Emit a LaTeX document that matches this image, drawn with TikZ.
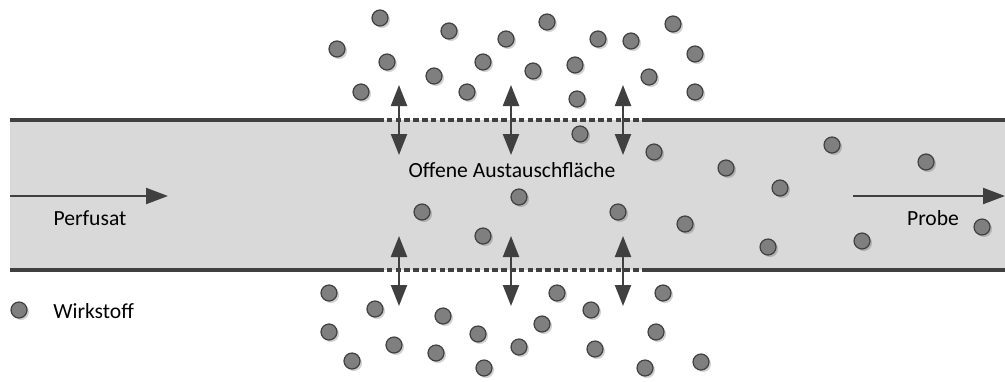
\documentclass[tikz,border=0pt]{standalone}
\usepackage{fontspec}
\setmainfont{Carlito}
\usetikzlibrary{arrows.meta,shadows}
\definecolor{linedark}{HTML}{404040}
\definecolor{tubefill}{HTML}{D9D9D9}
\definecolor{dotfill}{HTML}{7F7F7F}
\tikzset{
  wall/.style={draw=linedark, line width=1.8pt},
  membrane/.style={draw=linedark, line width=1.6pt, dash pattern=on 2.8pt off 1.6pt},
  flow/.style={draw=linedark, line width=1.1pt, -{Triangle[length=11pt,width=8pt]}},
  exchange/.style={draw=linedark, line width=1.1pt, {Triangle[length=10.5pt,width=8pt]}-{Triangle[length=10.5pt,width=8pt]}},
  particle/.style={circle, draw=linedark, fill=dotfill, line width=0.6pt,
    minimum size=8pt, inner sep=0pt,
    drop shadow={shadow xshift=1pt, shadow yshift=-1pt, opacity=0.18, fill=black}},
  label/.style={font=\fontsize{10.8}{12}\selectfont, text=black, inner sep=0pt},
}
\begin{document}
\begin{tikzpicture}[x=0.5pt, y=-0.5pt]
\useasboundingbox (0,0) rectangle (1005,381);

% tube interior
\fill[tubefill] (10,120) rectangle (1005,270);

% tube walls with open exchange section
\coordinate (tl) at (10,120);   \coordinate (tm1) at (378,120);
\coordinate (tm2) at (646,120); \coordinate (tr) at (1005,120);
\coordinate (bl) at (10,270);   \coordinate (bm1) at (378,270);
\coordinate (bm2) at (646,270); \coordinate (br) at (1005,270);
\draw[wall] (tl) -- (tm1);
\draw[wall] (tm2) -- (tr);
\draw[wall] (bl) -- (bm1);
\draw[wall] (bm2) -- (br);
\draw[membrane] (tm1) -- (tm2);
\draw[membrane] (bm1) -- (bm2);

% particles of the active agent
\foreach \n/\x/\y in {
  a1/380/18, a2/337/49, a3/387/62, a4/361/92, a5/449/31, a6/434/76,
  a7/467/92, a8/483/62, a9/506/39, a10/547/22, a11/533/71, a12/575/65,
  a13/577/99, a14/598/39, a15/631/41, a16/673/24, a17/695/54, a18/649/77,
  a19/695/92,
  b1/580/134, b2/654/152, b3/422/212, b4/519/197, b5/483/236, b6/618/212,
  b7/726/168, b8/780/188, b9/685/224, b10/768/247, b11/832/145,
  b12/926/162, b13/862/241, b14/982/227,
  c1/329/293, c2/375/309, c3/329/332, c4/352/361, c5/394/345, c6/443/316,
  c7/436/353, c8/478/334, c9/484/368, c10/519/347, c11/542/324,
  c12/557/293, c13/591/310, c14/595/349, c15/663/293, c16/656/332,
  c17/645/368, c18/701/362}
  \node[particle] (\n) at (\x,\y) {};

% exchange arrows through the open section
\foreach \k/\x in {1/399, 2/511, 3/623} {
  \coordinate (up\k a) at (\x,85);  \coordinate (up\k b) at (\x,155);
  \coordinate (lo\k a) at (\x,236); \coordinate (lo\k b) at (\x,306);
  \draw[exchange] (up\k a) -- (up\k b);
  \draw[exchange] (lo\k a) -- (lo\k b);
}

% flow direction
\coordinate (inA) at (10,196);  \coordinate (inB) at (168,196);
\coordinate (outA) at (853,196); \coordinate (outB) at (1005,196);
\draw[flow] (inA) -- (inB);
\draw[flow] (outA) -- (outB);

% labels
\node[label] (perf) at (90,218) {Perfusat};
\node[label] (probe) at (933,218) {Probe};
\node[label] (area) at (512,170) {Offene Austauschfläche};

% legend
\node[particle] (legdot) at (19,310) {};
\node[label, anchor=west] (legtext) at (53,311) {Wirkstoff};
\end{tikzpicture}
\end{document}
